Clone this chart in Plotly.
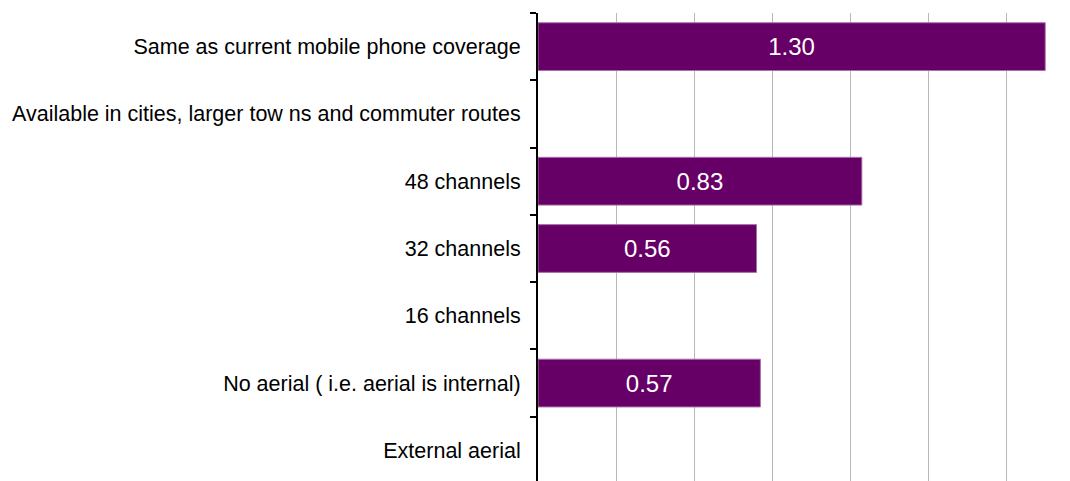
import plotly.graph_objects as go

categories = [
    "Same as current mobile phone coverage",
    "Available in cities, larger tow ns and commuter routes",
    "48 channels",
    "32 channels",
    "16 channels",
    "No aerial ( i.e. aerial is internal)",
    "External aerial",
]
values = [1.30, None, 0.83, 0.56, None, 0.57, None]

fig = go.Figure()
fig.add_trace(go.Bar(
    y=categories,
    x=values,
    orientation="h",
    width=0.71,
    marker=dict(color="#660066", line=dict(color="#a872a8", width=1)),
    texttemplate="%{x:.2f}",
    textposition="inside",
    insidetextanchor="middle",
    textfont=dict(family="Liberation Sans, Arial", size=24, color="white"),
    hoverinfo="skip",
))

# page body has an 8px margin, so offsets are reduced accordingly
fig.update_layout(
    width=1070,
    height=481,
    margin=dict(l=530, r=0, t=5, b=5),
    paper_bgcolor="white",
    plot_bgcolor="white",
    showlegend=False,
)
fig.update_xaxes(
    range=[0, 1.384],
    dtick=0.2,
    showgrid=True,
    gridcolor="#b8b8b8",
    gridwidth=1,
    zeroline=False,
    showticklabels=False,
    showline=False,
    ticks="",
)
fig.update_yaxes(
    type="category",
    categoryorder="array",
    categoryarray=categories,
    range=[6.5, -0.5],
    showline=True,
    linecolor="black",
    linewidth=2,
    ticks="outside",
    ticklen=6,
    tickwidth=1.5,
    tickcolor="black",
    tickson="boundaries",
    showgrid=False,
    ticklabelstandoff=11,
    tickfont=dict(family="Liberation Sans, Arial", size=21.5, color="black"),
)

fig.write_html("out.html")
